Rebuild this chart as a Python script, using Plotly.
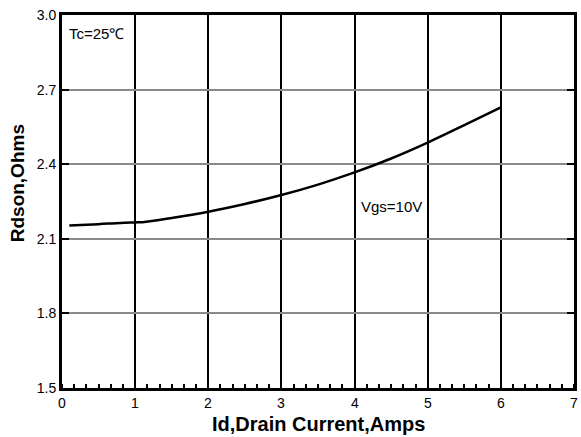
import plotly.graph_objects as go

id_amps = [0.1, 0.5, 0.8, 1.0, 1.1, 1.5, 2.0, 2.5, 3.0, 3.5, 4.0, 4.5, 5.0, 5.5, 6.0]
rdson = [2.153, 2.159, 2.164, 2.166, 2.167, 2.184, 2.209, 2.240, 2.276, 2.318, 2.367, 2.423, 2.487, 2.557, 2.629]
x_ticks = [0, 1, 2, 3, 4, 5, 6, 7]
y_ticks = [1.5, 1.8, 2.1, 2.4, 2.7, 3.0]

W, H = 581, 437
ml, mr, mt, mb = 62, 4, 15, 49
ph = H - mt - mb
pw = W - ml - mr

fig = go.Figure()
fig.add_trace(go.Scatter(x=id_amps, y=rdson, mode="lines",
                         line=dict(color="black", width=2.5, shape="spline"),
                         showlegend=False))

annotations = [
    dict(text="<b>Rdson,Ohms</b>", xref="paper", yref="paper",
         x=(17 - ml) / pw, y=(H - mb - 183) / ph,
         textangle=-90, showarrow=False, font=dict(size=19),
         xanchor="center", yanchor="middle"),
    dict(text="<b>Id,Drain Current,Amps</b>", xref="paper", yref="paper",
         x=0.5, y=(H - mb - 424) / ph, showarrow=False, font=dict(size=20),
         xanchor="center", yanchor="middle"),
    dict(text="Tc=25℃", xref="x", yref="y", x=0.07, y=2.925,
         showarrow=False, xanchor="left", yanchor="middle", font=dict(size=15)),
    dict(text="Vgs=10V", xref="x", yref="y", x=4.51, y=2.23,
         showarrow=False, xanchor="center", yanchor="middle", font=dict(size=15)),
]
for v in x_ticks:
    annotations.append(dict(text=str(v), xref="x", yref="paper", x=v, y=0,
                            yshift=-5, xanchor="center", yanchor="top",
                            showarrow=False, font=dict(size=14)))

fig.update_layout(
    width=W, height=H,
    margin=dict(l=ml, r=mr, t=mt, b=mb),
    paper_bgcolor="white", plot_bgcolor="white",
    font=dict(family="Liberation Sans, Arial, sans-serif", size=14, color="black"),
    xaxis=dict(range=[0, 7], tickvals=x_ticks, showticklabels=False,
               showline=True, linewidth=3, linecolor="black", mirror=True,
               showgrid=True, gridcolor="black", gridwidth=1.5,
               ticks="", zeroline=False,
               minor=dict(dtick=1/6, ticks="inside", ticklen=4, tickwidth=2,
                          tickcolor="black", showgrid=False)),
    yaxis=dict(range=[1.5, 3.0], tickvals=y_ticks, ticktext=[f"{v:.1f}" for v in y_ticks],
               showline=True, linewidth=3, linecolor="black", mirror="ticks",
               showgrid=True, gridcolor="#8a8a8a", gridwidth=2,
               ticks="inside", ticklen=7, tickwidth=2, tickcolor="black",
               zeroline=False, tickfont=dict(size=14)),
    annotations=annotations,
)

fig.write_html("out.html", config={"displayModeBar": False},
               post_script="document.body.style.margin='0';")
